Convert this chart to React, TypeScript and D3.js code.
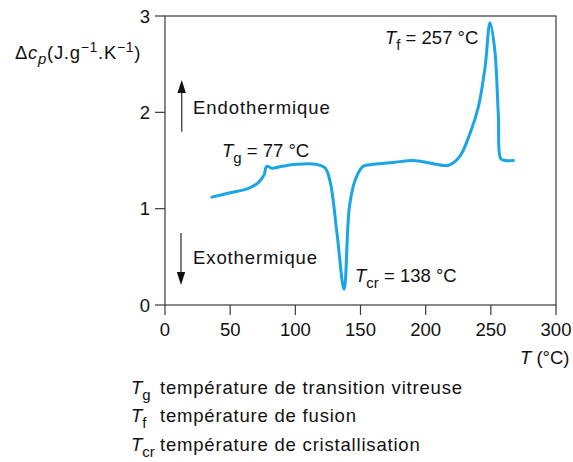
import React from "react";
import * as d3 from "d3";

const temps = [36, 50, 64, 71.6, 76, 78, 82, 90, 101, 116, 123, 127, 132, 137.4, 141.5, 146, 152, 160, 175, 190.6, 205, 217.5, 226, 234, 240.5, 245.6, 249.4, 253, 255.8, 257.6, 261, 267.3];
const cpValues = [1.12, 1.165, 1.21, 1.27, 1.35, 1.44, 1.42, 1.44, 1.46, 1.46, 1.42, 1.26, 0.74, 0.16, 1.02, 1.30, 1.44, 1.46, 1.48, 1.50, 1.47, 1.45, 1.54, 1.78, 2.06, 2.47, 2.93, 2.65, 1.96, 1.52, 1.50, 1.50];
const xTicks = [0, 50, 100, 150, 200, 250, 300];
const yTicks = [0, 1, 2, 3];

const W = 573, H = 462;
const M = { left: 165, right: 556, top: 16, bottom: 305 };
const FONT = "'Liberation Sans', Arial, sans-serif";
const FS = 18.5;
const SUB = 15;

export default function App() {
  const x = d3.scaleLinear().domain([0, 300]).range([M.left, M.right]);
  const y = d3.scaleLinear().domain([0, 3]).range([M.bottom, M.top]);
  const data = temps.map((t, i) => [t, cpValues[i]] as [number, number]);
  const line = d3.line<[number, number]>().x(d => x(d[0])).y(d => y(d[1])).curve(d3.curveCatmullRom.alpha(0.5));
  const axisColor = "#3a3a3a";
  const textColor = "#111";
  return (
    <svg width={W} height={H} style={{ position: "absolute", left: 0, top: 0, background: "#fff" }} fontFamily={FONT}>
      <rect x={M.left} y={M.top} width={M.right - M.left} height={M.bottom - M.top} fill="none" stroke={axisColor} strokeWidth={1.2} />
      {xTicks.map(t => (
        <g key={"x" + t}>
          <line x1={x(t)} x2={x(t)} y1={M.bottom} y2={M.bottom + 10} stroke={axisColor} strokeWidth={1.2} />
          <text x={x(t)} y={335.5} textAnchor="middle" fontSize={FS} fill={textColor}>{t}</text>
        </g>
      ))}
      {yTicks.map(t => (
        <g key={"y" + t}>
          <line x1={M.left - 10} x2={M.left} y1={y(t)} y2={y(t)} stroke={axisColor} strokeWidth={1.2} />
          <text x={150} y={y(t) + 6.5} textAnchor="end" fontSize={FS} fill={textColor}>{t}</text>
        </g>
      ))}
      <path d={line(data) || ""} fill="none" stroke="#1aa5e6" strokeWidth={3} strokeLinejoin="round" strokeLinecap="round" />

      {/* y label */}
      <text x={15} y={58.5} fontSize={FS} fill={textColor} letterSpacing={0.7}>
        <tspan>Δ</tspan><tspan fontStyle="italic">c</tspan><tspan fontStyle="italic" fontSize={SUB} dy={5}>p</tspan><tspan dy={-5}>(J.g</tspan><tspan fontSize={14} dy={-7}>−1</tspan><tspan dy={7}>.K</tspan><tspan fontSize={14} dy={-7}>−1</tspan><tspan dy={7}>)</tspan>
      </text>
      {/* x label */}
      <text x={520} y={363.5} fontSize={FS} fill={textColor}>
        <tspan fontStyle="italic">T</tspan><tspan> (°C)</tspan>
      </text>

      {/* arrows */}
      <line x1={181.7} x2={181.7} y1={131.7} y2={90} stroke={axisColor} strokeWidth={1.3} />
      <path d="M181.7,80 L177.5,93 L185.9,93 Z" fill="#111" />
      <text x={193} y={114.3} fontSize={FS} letterSpacing={0.95} fill={textColor}>Endothermique</text>
      <line x1={181} x2={181} y1={233} y2={275} stroke={axisColor} strokeWidth={1.3} />
      <path d="M181,285 L176.8,272 L185.2,272 Z" fill="#111" />
      <text x={193} y={263.5} fontSize={FS} letterSpacing={0.9} fill={textColor}>Exothermique</text>

      {/* annotations */}
      <text x={222} y={157} fontSize={FS} fill={textColor}>
        <tspan fontStyle="italic">T</tspan><tspan fontSize={SUB} dy={6}>g</tspan><tspan dy={-6}> = 77 °C</tspan>
      </text>
      <text x={355} y={282} fontSize={FS} fill={textColor}>
        <tspan fontStyle="italic">T</tspan><tspan fontSize={SUB} dy={6}>cr</tspan><tspan dy={-6}> = 138 °C</tspan>
      </text>
      <text x={385} y={43.5} fontSize={FS} fill={textColor}>
        <tspan fontStyle="italic">T</tspan><tspan fontSize={SUB} dy={6}>f</tspan><tspan dy={-6}> = 257 °C</tspan>
      </text>

      {/* legend */}
      <text x={131} y={393.5} fontSize={FS} fill={textColor}>
        <tspan fontStyle="italic">T</tspan><tspan fontSize={SUB} dy={6}>g</tspan>
      </text>
      <text x={160} y={393.5} fontSize={FS} letterSpacing={0.8} fill={textColor}>température de transition vitreuse</text>
      <text x={131} y={422} fontSize={FS} fill={textColor}>
        <tspan fontStyle="italic">T</tspan><tspan fontSize={SUB} dy={6}>f</tspan>
      </text>
      <text x={160} y={422} fontSize={FS} letterSpacing={0.8} fill={textColor}>température de fusion</text>
      <text x={131} y={450.5} fontSize={FS} fill={textColor}>
        <tspan fontStyle="italic">T</tspan><tspan fontSize={SUB} dy={6}>cr</tspan>
      </text>
      <text x={160} y={450.5} fontSize={FS} letterSpacing={0.8} fill={textColor}>température de cristallisation</text>
    </svg>
  );
}
